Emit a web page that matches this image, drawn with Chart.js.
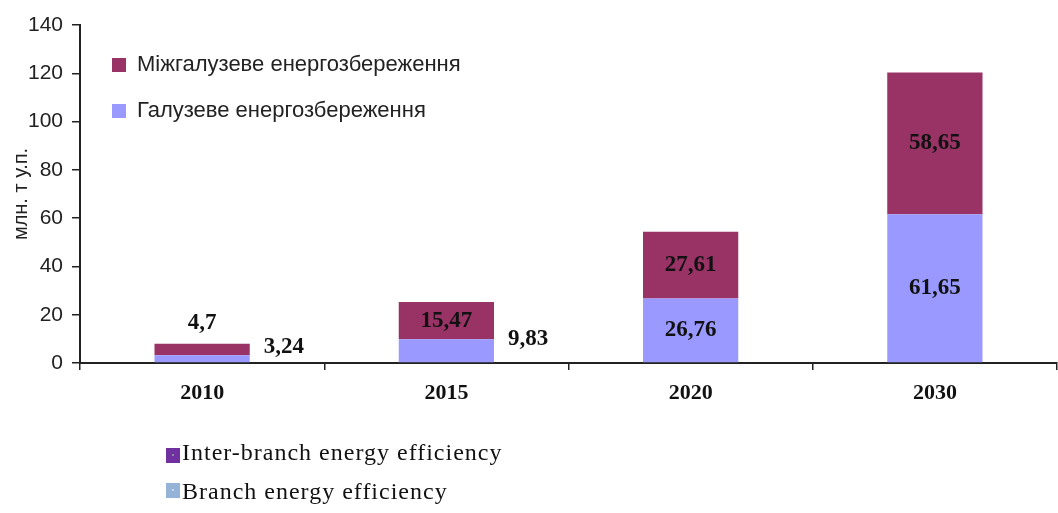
<!DOCTYPE html>
<html>
<head>
<meta charset="utf-8">
<script src="https://cdn.jsdelivr.net/npm/chart.js@4"></script>
<style>
html,body{margin:0;padding:0;background:#fff;}
#wrap{position:relative;width:1058px;height:513px;overflow:hidden;}
#wrap canvas{position:absolute;left:0;top:0;}
.enrow{position:absolute;left:166px;height:24px;font-family:"Liberation Serif","Times New Roman",serif;font-size:24px;line-height:24px;letter-spacing:1px;color:#111;white-space:nowrap;}
.enrow .sq{position:absolute;left:0;width:14px;height:15px;}
.enrow .sq i{position:absolute;left:6px;top:6px;width:2px;height:2px;}
.enrow .tx{position:absolute;left:16px;top:0;}
</style>
</head>
<body>
<div id="wrap">
  <canvas id="c" width="1058" height="513"></canvas>
  <div class="enrow" style="top:440px;"><span class="sq" style="background:#7030A0;top:8px;"><i style="background:#8a8a9a"></i></span><span class="tx">Inter-branch energy efficiency</span></div>
  <div class="enrow" style="top:479px;"><span class="sq" style="background:#95B3D7;top:4px;"><i style="background:#c8d8ea"></i></span><span class="tx">Branch energy efficiency</span></div>
</div>
<script>
// ---- data ----
const categories = ['2010', '2015', '2020', '2030'];
const branchLabel = 'Галузеве енергозбереження';
const interBranchLabel = 'Міжгалузеве енергозбереження';
const branchValues = [3.24, 9.83, 26.76, 61.65];
const interBranchValues = [4.7, 15.47, 27.61, 58.65];
const yTitle = 'млн. т у.п.';

const labelPlugin = {
  id: 'valueLabels',
  afterDatasetsDraw(chart, args, opts) {
    const ctx = chart.ctx;
    ctx.save();
    ctx.font = 'bold 23px "Liberation Serif"';
    ctx.fillStyle = '#111';
    ctx.textBaseline = 'middle';
    chart.data.datasets.forEach((ds, di) => {
      const meta = chart.getDatasetMeta(di);
      meta.data.forEach((bar, i) => {
        const txt = String(ds.data[i]).replace('.', ',');
        const place = opts.placement[di][i];
        const top = Math.min(bar.y, bar.base), bot = Math.max(bar.y, bar.base);
        const cy = (top + bot) / 2;
        let x = bar.x, y = cy;
        ctx.textAlign = 'center';
        if (place === 'above') { y = top - 21; }
        else if (place === 'right') { ctx.textAlign = 'left'; x = bar.x + bar.width / 2 + 14; y = cy - 12; }
        ctx.fillText(txt, x, y);
      });
    });
    ctx.restore();
  }
};

const legendShift = {
  id: 'legendShift',
  afterLayout(chart) {
    const l = chart.legend;
    if (!l) return;
    l.left = chart.chartArea.left + 8;
    l.top = chart.chartArea.top + 5;
    l.right = l.left + l.width;
    l.bottom = l.top + l.height;
  }
};

new Chart(document.getElementById('c'), {
  type: 'bar',
  data: {
    labels: categories,
    datasets: [
      { label: branchLabel, data: branchValues, backgroundColor: '#9999FF', borderWidth: 0 },
      { label: interBranchLabel, data: interBranchValues, backgroundColor: '#993366', borderWidth: 0 }
    ]
  },
  options: {
    responsive: false,
    animation: false,
    devicePixelRatio: 1,
    layout: { padding: { top: 25, right: 1, bottom: 105, left: 0 } },
    datasets: { bar: { barPercentage: 0.39, categoryPercentage: 1 } },
    scales: {
      x: {
        stacked: true,
        ticks: { color: '#111', font: { family: 'Liberation Serif', size: 22, weight: 'bold' }, padding: 10 },
        grid: { drawOnChartArea: false, tickLength: 7, color: '#222', lineWidth: 1.5, offset: true },
        border: { color: '#222', width: 2 },
        afterFit(s) { s.height = 45; }
      },
      y: {
        stacked: true, min: 0, max: 140,
        ticks: { stepSize: 20, color: '#222', font: { family: 'Liberation Sans', size: 21 }, padding: 9 },
        grid: { drawOnChartArea: false, tickLength: 8, color: '#222', lineWidth: 1.5 },
        border: { color: '#222', width: 2 },
        title: { display: true, text: yTitle, color: '#222', font: { family: 'Liberation Sans', size: 20 }, padding: { top: 9, bottom: 0 } },
        afterFit(s) { s.width = 80; }
      }
    },
    plugins: {
      legend: {
        position: 'chartArea', align: 'start', reverse: true,
        labels: { boxWidth: 14, boxHeight: 14, padding: 24, color: '#222', font: { family: 'Liberation Sans', size: 22 } }
      },
      tooltip: { enabled: false },
      valueLabels: { placement: [['right', 'right', 'center', 'center'], ['above', 'center', 'center', 'center']] }
    }
  },
  plugins: [labelPlugin, legendShift]
});
</script>
</body>
</html>
